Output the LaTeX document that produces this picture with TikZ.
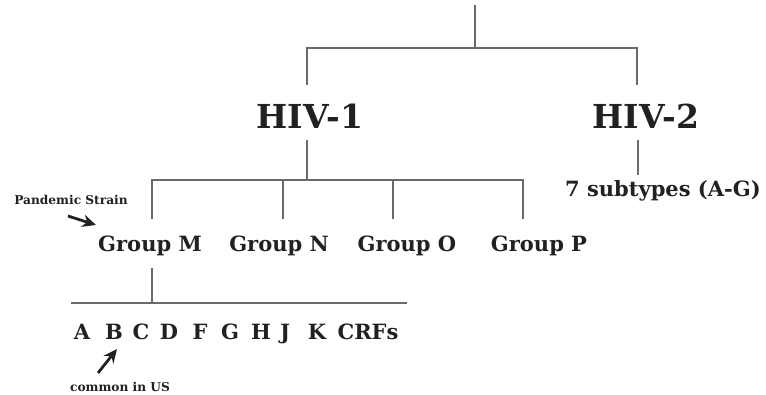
\documentclass[tikz,border=0pt]{standalone}
\usepackage{fontspec}
\setmainfont{DejaVu Serif}
\usepackage{tikz}
\usetikzlibrary{arrows.meta}
\definecolor{branchgray}{gray}{0.42}
\definecolor{labink}{gray}{0.13}
\tikzset{
  branch/.style   = {draw=branchgray, line width=1pt},
  virus/.style    = {inner sep=0pt, text=labink, font=\fontsize{16.5}{18}\selectfont\bfseries},
  grp/.style      = {inner sep=0pt, text=labink, font=\fontsize{10.5}{12}\selectfont\bfseries},
  subt/.style     = {grp},
  note/.style     = {inner sep=0pt, text=labink, font=\fontsize{6.1}{7}\selectfont\bfseries},
  pointer/.style  = {-{Stealth[length=2.4mm,width=2.2mm]}, line width=1.4pt, draw=labink},
}

\begin{document}
\begin{tikzpicture}[x=0.5pt,y=-0.5pt]
  \useasboundingbox (0,0) rectangle (766,395);

  % top of the tree
  \coordinate (root) at (475,5);
  \coordinate (rootbar) at (475,48);
  \coordinate (hivone-in) at (307,85);
  \coordinate (hivtwo-in) at (637,85);
  \draw[branch] (root) -- (rootbar);
  \draw[branch] (hivone-in) |- (rootbar) -| (hivtwo-in);

  \node[virus] (hiv1) at (310,116) {HIV-1};
  \node[virus] (hiv2) at (646,116) {HIV-2};

  % HIV-2 subtypes
  \coordinate (hivtwo-out) at (638,140);
  \coordinate (subt-in) at (638,175);
  \draw[branch] (hivtwo-out) -- (subt-in);
  \node[subt] (subtypes) at (663,191) {7 subtypes (A-G)};

  % HIV-1 groups
  \coordinate (hivone-out) at (307,140);
  \coordinate (grpbar) at (307,180);
  \draw[branch] (hivone-out) -- (grpbar);
  \coordinate (grpM-in) at (152,219);
  \coordinate (grpP-in) at (523,219);
  \draw[branch] (grpM-in) |- (grpbar) -| (grpP-in);
  \foreach \gx/\gn in {283/N, 393/O}{
    \coordinate (grp\gn-in) at (\gx,219);
    \draw[branch] (grp\gn-in) -- (grp\gn-in |- grpbar);
  }

  \node[grp] (grpM) at (150,246) {Group M};
  \node[grp] (grpN) at (279,246) {Group N};
  \node[grp] (grpO) at (407,246) {Group O};
  \node[grp] (grpP) at (539,246) {Group P};

  \node[note] (pandemic) at (71,200) {Pandemic Strain};
  \coordinate (pand-tail) at (68,216);
  \coordinate (pand-tip) at (96,225);
  \draw[pointer] (pand-tail) -- (pand-tip);

  % Group M subtypes
  \coordinate (grpM-out) at (152,268);
  \coordinate (subbar) at (152,303);
  \draw[branch] (grpM-out) -- (subbar);
  \coordinate (subbar-w) at (71,303);
  \coordinate (subbar-e) at (407,303);
  \draw[branch] (subbar-w) -- (subbar-e);

  \foreach \sx/\sl in {82/A, 114/B, 141/C, 169/D, 200/F, 230/G, 261/H, 285/J, 317/K, 368/CRFs}{
    \node[subt, anchor=base] (sub\sl) at (\sx,340) {\sl};
  }

  \coordinate (usa-tail) at (98,373);
  \coordinate (usa-tip) at (117,349);
  \draw[pointer] (usa-tail) -- (usa-tip);
  \node[note] (usa) at (120,387) {common in US};
\end{tikzpicture}
\end{document}
